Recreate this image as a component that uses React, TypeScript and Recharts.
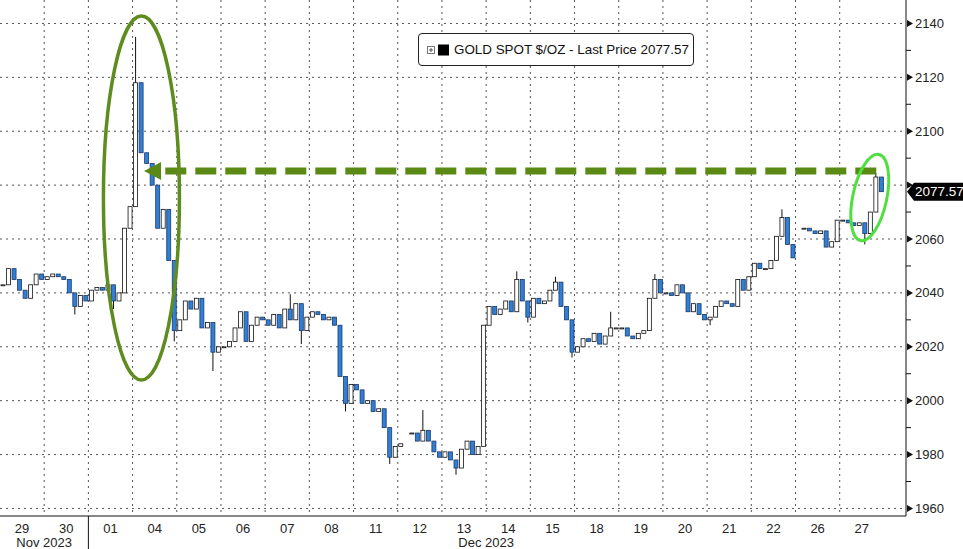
import React from "react";
import {
  Bar,
  CartesianGrid,
  ComposedChart,
  Legend,
  ReferenceDot,
  ReferenceLine,
  XAxis,
  YAxis,
} from "recharts";

// trading days shown on the axis
const nov2023Days = ["29", "30"];
const dec2023Days = ["01", "04", "05", "06", "07", "08", "11", "12", "13", "14", "15", "18", "19", "20", "21", "22", "26", "27"];

// closes, 8 bars a day (null = no trading)
const nov29 = [2043, 2049, 2045, 2041, 2038, 2043, 2047, 2045];
const nov30 = [2046, 2047, 2046, 2045, 2040, 2035, 2039, 2037];
const dec01 = [2041, 2042, 2041, 2043, 2037, 2040, 2064, 2072];
const dec04 = [2118, 2092, 2088, 2080, 2064, 2071, 2052, 2026];
const dec05 = [2030, 2037, 2034, 2038, 2027, 2029, 2018, 2020];
const dec06 = [2020, 2022, 2027, 2033, 2022, 2028, 2031, 2030];
const dec07 = [2028, 2032, 2027, 2034, 2030, 2036, 2026, 2031];
const dec08 = [2033, 2032, 2030, 2031, 2028, 2009, 1999, 2006];
const dec11 = [2004, 1999, 2000, 1996, 1997, 1990, 1979, 1983];
const dec12 = [1984, null, 1988, 1985, 1989, 1985, 1981, 1979];
const dec13 = [1981, 1978, 1975, 1982, 1985, 1980, 1983, 2028];
const dec14 = [2035, 2032, 2034, 2037, 2033, 2045, 2037, 2031];
const dec15 = [2038, 2036, 2037, 2041, 2044, 2035, 2030, 2018];
const dec18 = [2020, 2023, 2022, 2025, 2021, 2024, 2027, 2027];
const dec19 = [2027, 2024, 2023, 2025, 2026, 2038, 2045, 2040];
const dec20 = [2040, 2039, 2043, 2040, 2033, 2036, 2032, 2030];
const dec21 = [2031, 2035, 2037, 2036, 2035, 2045, 2041, 2046];
const dec22 = [2051, 2049, 2049, 2052, 2061, 2068, 2058, 2053];
const dec26 = [null, 2064, 2063, 2062, 2063, 2057, 2059, 2067];
const dec27 = [2067, 2066, 2065, 2066, 2062, 2070, 2083, 2077.57];

const closesByDay: (number | null)[][] = [
  nov29, nov30, dec01, dec04, dec05, dec06, dec07, dec08, dec11, dec12,
  dec13, dec14, dec15, dec18, dec19, dec20, dec21, dec22, dec26, dec27,
];

// wick extremes beyond the bodies
const extremes = [
  { day: "30", slot: 5, low: 2032 },
  { day: "01", slot: 4, low: 2034 },
  { day: "04", slot: 0, high: 2135 },
  { day: "04", slot: 7, low: 2022 },
  { day: "05", slot: 6, low: 2011 },
  { day: "07", slot: 4, high: 2039.5 },
  { day: "07", slot: 6, low: 2021 },
  { day: "08", slot: 6, low: 1996 },
  { day: "11", slot: 6, low: 1976.5 },
  { day: "12", slot: 4, high: 1996.5 },
  { day: "13", slot: 2, low: 1972.5 },
  { day: "14", slot: 5, high: 2048 },
  { day: "14", slot: 7, low: 2029 },
  { day: "15", slot: 4, high: 2046 },
  { day: "15", slot: 7, low: 2016 },
  { day: "18", slot: 6, high: 2033 },
  { day: "19", slot: 6, high: 2047 },
  { day: "21", slot: 0, low: 2028 },
  { day: "22", slot: 5, high: 2071 },
  { day: "27", slot: 4, low: 2058 },
  { day: "27", slot: 6, high: 2084.5 },
];

const lastPrice = 2077.57;
const priceTicks = [1960, 1970, 1980, 1990, 2000, 2010, 2020, 2030, 2040, 2050, 2060, 2070, 2080, 2090, 2100, 2110, 2120, 2130, 2140];
const majorTicks = priceTicks.filter((v) => v % 20 === 0);
const legendLabel = "GOLD SPOT $/OZ - Last Price 2077.57";

// annotations (data units)
const prevHigh = 2085.2;
const arrowFrom = 19.92;
const arrowTo = 3.74;
const arrowTip = 3.26;
const spikeCircle = { x: 3.2, y: 2075.2 };
const rallyCircle = { x: 19.68, y: 2075.4 };

const slotsPerDay = 8;
const emptySlotsAfter = 4;
const font = "'Liberation Sans', Arial, sans-serif";

const months = [
  { name: "Nov 2023", days: nov2023Days },
  { name: "Dec 2023", days: dec2023Days },
];
const dayLabels = months.flatMap((m) => m.days);
let acc = 0;
const monthSpans = months.map((m) => {
  const start = acc;
  acc += m.days.length;
  return { name: m.name, start, center: start + m.days.length / 2 };
});
const monthCenters = monthSpans.map((m) => m.center);
const monthBounds = monthSpans.slice(1).map((m) => m.start);

type Row = { i: number; pos: number; open?: number; close: number | null; high?: number; low?: number };
const rows: Row[] = [];
let prev: number | null = null;
dayLabels.forEach((label, d) => {
  closesByDay[d].forEach((close, slot) => {
    const i = rows.length;
    const pos = (i + 0.5) / slotsPerDay;
    if (close == null) {
      rows.push({ i, pos, close: null });
      prev = null;
      return;
    }
    const open = prev ?? close;
    const ext = extremes.find((e) => e.day === label && e.slot === slot);
    rows.push({
      i,
      pos,
      open,
      close,
      high: Math.max(open, close, ext?.high ?? -Infinity),
      low: Math.min(open, close, ext?.low ?? Infinity),
    });
    prev = close;
  });
});
for (let k = 0; k < emptySlotsAfter; k++) {
  const i = rows.length;
  rows.push({ i, pos: (i + 0.5) / slotsPerDay, close: null });
}
const span = rows.length / slotsPerDay;
const dayBounds = dayLabels.map((_, d) => d).filter((d) => d > 0);
const dayCenters = dayLabels.map((_, d) => d + 0.5);

const Candle = (props: any) => {
  const { x, y, width, height, payload } = props;
  if (!payload || payload.close == null) return null;
  const { open, close, high, low } = payload;
  const k = high - low > 0 ? height / (high - low) : 0;
  const top = y + (high - Math.max(open, close)) * k;
  const bottom = y + (high - Math.min(open, close)) * k;
  const up = close >= open;
  const cx = x + width / 2;
  return (
    <g>
      <line x1={cx} x2={cx} y1={y} y2={y + height} stroke="#111" strokeWidth={1} />
      <rect
        x={x}
        y={top}
        width={width}
        height={Math.max(bottom - top, 1)}
        fill={up ? "#fff" : "#2f7fd6"}
        stroke={up ? "#111" : "#1c3b6b"}
        strokeWidth={0.8}
      />
    </g>
  );
};

const PriceTick = (props: any) => {
  const { x, y, payload } = props;
  const v = payload.value;
  if (v % 20 !== 0) {
    return <line x1={x - 9} x2={x - 4} y1={y} y2={y} stroke="#111" />;
  }
  return (
    <g>
      <path d={`M${x - 8},${y - 3.5} L${x - 2},${y} L${x - 8},${y + 3.5} Z`} fill="#111" />
      {Math.abs(v - lastPrice) > 8 && (
        <text x={x} y={y} dy={4.5} fontSize={13} fill="#222" fontFamily={font}>
          {v}
        </text>
      )}
    </g>
  );
};

const DayTick = (props: any) => {
  const { x, y, payload } = props;
  return (
    <text x={x} y={y} dy={9.5} textAnchor="middle" fontSize={13} fill="#222" fontFamily={font}>
      {dayLabels[Math.floor(payload.value)]}
    </text>
  );
};

const MonthTick = (props: any) => {
  const { x, y, payload } = props;
  const v = payload.value;
  if (monthBounds.includes(v)) {
    return <line x1={x} x2={x} y1={y - 21} y2={y + 14} stroke="#111" strokeWidth={1} />;
  }
  const m = monthSpans.find((s) => s.center === v);
  return (
    <text x={x} y={y} dy={9.5} textAnchor="middle" fontSize={13} fill="#222" fontFamily={font}>
      {m ? m.name : ""}
    </text>
  );
};

const PriceTag = (props: any) => {
  const { viewBox } = props;
  const x = viewBox.x + viewBox.width;
  const y = viewBox.y;
  return (
    <g>
      <path d={`M${x + 1},${y} L${x + 8},${y - 9} L${x + 57},${y - 9} L${x + 57},${y + 9} L${x + 8},${y + 9} Z`} fill="#000" />
      <text x={x + 9} y={y} dy={4.6} fontSize={13.5} fill="#fff" fontFamily={font}>
        {lastPrice.toFixed(2)}
      </text>
    </g>
  );
};

const LegendBox = () => (
  <div
    style={{
      border: "1px solid #222",
      borderRadius: 4,
      background: "#fff",
      height: 33,
      boxSizing: "border-box",
      display: "flex",
      alignItems: "center",
      padding: "0 6px 0 8px",
      fontFamily: font,
      fontSize: 13.4,
      color: "#111",
      whiteSpace: "nowrap",
    }}
  >
    <svg width={24} height={12} style={{ marginRight: 3, flexShrink: 0 }}>
      <rect x={0.5} y={2.5} width={7} height={7} fill="#fff" stroke="#777" />
      <line x1={2} x2={6} y1={6} y2={6} stroke="#555" />
      <line x1={4} x2={4} y1={4} y2={8} stroke="#555" />
      <rect x={11} y={0.5} width={11} height={11} fill="#000" />
    </svg>
    <span>{legendLabel}</span>
  </div>
);

export default function App() {
  return (
    <div style={{ position: "absolute", left: 0, top: 0, background: "#fff" }}>
      <ComposedChart width={963} height={549} data={rows} margin={{ top: 0, right: 0, bottom: 0, left: 0 }}>
        <XAxis
          xAxisId="lbl"
          dataKey="pos"
          type="number"
          domain={[0, span]}
          allowDataOverflow
          ticks={dayCenters}
          interval={0}
          tick={<DayTick />}
          tickLine={false}
          tickSize={0}
          tickMargin={7}
          axisLine={{ stroke: "#111" }}
          height={16}
        />
        <XAxis
          xAxisId="month"
          dataKey="pos"
          type="number"
          domain={[0, span]}
          allowDataOverflow
          ticks={[...monthCenters, ...monthBounds]}
          interval={0}
          tick={<MonthTick />}
          tickLine={false}
          tickSize={0}
          tickMargin={5}
          axisLine={false}
          height={17}
        />
        <XAxis xAxisId="c" dataKey="i" type="category" hide height={0} />
        <XAxis xAxisId="d" dataKey="pos" type="number" domain={[0, span]} allowDataOverflow hide height={0} />
        <YAxis
          yAxisId="p"
          orientation="right"
          type="number"
          domain={[1957.2, 2148.7]}
          allowDataOverflow
          ticks={priceTicks}
          interval={0}
          tick={<PriceTick />}
          tickLine={false}
          tickSize={7}
          tickMargin={2}
          axisLine={{ stroke: "#111" }}
          width={57}
        />
        <CartesianGrid
          xAxisId="d"
          yAxisId="p"
          horizontalValues={majorTicks}
          verticalValues={dayBounds}
          stroke="#555"
          strokeDasharray="2 4"
        />
        <Legend
          layout="horizontal"
          verticalAlign="middle"
          align="center"
          content={<LegendBox />}
          wrapperStyle={{ left: 418, top: 33, width: 276, height: 33 }}
        />
        <Bar
          xAxisId="c"
          yAxisId="p"
          dataKey={(d: Row) => (d.close == null ? null : [d.low, d.high])}
          shape={<Candle />}
          barSize={4}
          isAnimationActive={false}
        />
        <ReferenceLine
          xAxisId="d"
          yAxisId="p"
          y={lastPrice}
          stroke="none"
          label={<PriceTag />}
        />
        <ReferenceLine
          xAxisId="d"
          yAxisId="p"
          segment={[
            { x: arrowTo, y: prevHigh },
            { x: arrowFrom, y: prevHigh },
          ]}
          stroke="#5b8a14"
          strokeWidth={7}
          strokeDasharray="21 9"
        />
        <ReferenceDot
          xAxisId="d"
          yAxisId="p"
          x={arrowTip}
          y={prevHigh}
          shape={(p: any) => (
            <path d={`M${p.cx},${p.cy} L${p.cx + 17},${p.cy - 9} L${p.cx + 17},${p.cy + 9} Z`} fill="#5b8a14" />
          )}
        />
        <ReferenceDot
          xAxisId="d"
          yAxisId="p"
          x={spikeCircle.x}
          y={spikeCircle.y}
          shape={(p: any) => (
            <ellipse cx={p.cx} cy={p.cy} rx={38} ry={182} fill="none" stroke="#5e8c1f" strokeWidth={3.5} />
          )}
        />
        <ReferenceDot
          xAxisId="d"
          yAxisId="p"
          x={rallyCircle.x}
          y={rallyCircle.y}
          shape={(p: any) => (
            <ellipse
              cx={p.cx}
              cy={p.cy}
              rx={17}
              ry={44}
              transform={`rotate(12 ${p.cx} ${p.cy})`}
              fill="none"
              stroke="#4ee03f"
              strokeWidth={3}
            />
          )}
        />
      </ComposedChart>
    </div>
  );
}
